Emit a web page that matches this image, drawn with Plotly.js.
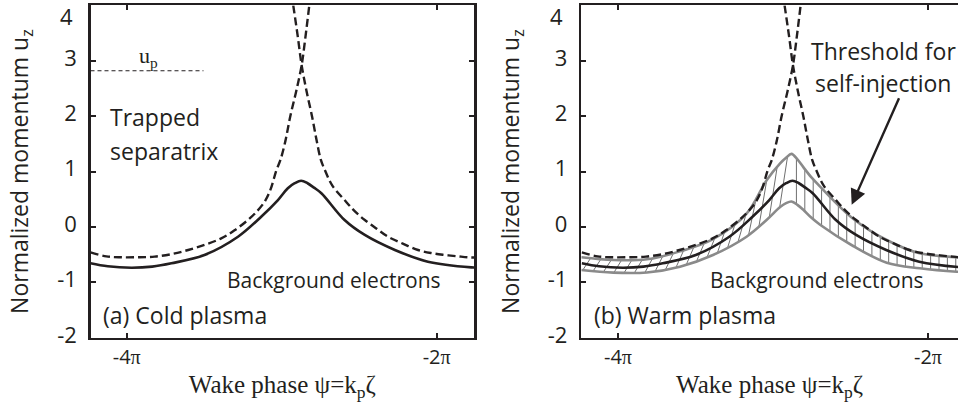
<!DOCTYPE html>
<html>
<head>
<meta charset="utf-8">
<script src="https://cdn.plot.ly/plotly-3.0.1.min.js"></script>
<style>html,body{margin:0;padding:0;background:#fff;}#chart{width:958px;height:408px;}</style>
</head>
<body>
<div id="chart"></div>
<script>
// ---- data (x = wake phase in radians, u = normalized momentum) ----
const coldX = [-13.30, -12.95, -12.47, -12.05, -11.66, -10.99, -10.31, -9.84, -9.50, -9.30, -9.16, -9.03, -8.90, -8.77, -8.62, -8.15, -7.74, -7.13, -6.46, -5.58, -5.50];
const coldU = [-0.655, -0.71, -0.735, -0.715, -0.655, -0.505, -0.175, 0.186, 0.487, 0.70, 0.79, 0.836, 0.79, 0.71, 0.61, 0.126, -0.144, -0.415, -0.626, -0.728, -0.73];

const sepLeftX = [-13.30, -12.98, -12.68, -12.30, -12.00, -11.66, -11.32, -10.98, -10.65, -10.38, -10.11, -9.94, -9.77, -9.65, -9.53, -9.45, -9.35, -9.25, -9.13, -9.02, -8.94, -8.865];
const sepLeftU = [-0.457, -0.53, -0.547, -0.545, -0.535, -0.49, -0.415, -0.32, -0.205, -0.06, 0.126, 0.27, 0.457, 0.68, 1.03, 1.21, 1.55, 2.0, 2.45, 2.92, 3.45, 4.0];

const sepRightX = [-9.19, -9.10, -9.02, -8.92, -8.81, -8.72, -8.63, -8.55, -8.40, -8.15, -7.95, -7.74, -7.50, -7.27, -6.97, -6.66, -6.40, -6.12, -5.85, -5.65, -5.50];
const sepRightU = [4.0, 3.45, 2.92, 2.45, 2.0, 1.58, 1.21, 1.03, 0.75, 0.487, 0.29, 0.126, -0.03, -0.175, -0.30, -0.415, -0.47, -0.505, -0.53, -0.547, -0.55];

const warmX     = [-13.31, -12.66, -11.98, -11.31, -10.64, -9.96, -9.55, -9.28, -9.16, -9.05, -8.93, -8.81, -8.65, -8.47, -7.80, -7.12, -6.45, -5.70, -5.60];
const warmUpper = [-0.547, -0.596, -0.583, -0.44, -0.22, 0.24, 0.85, 1.15, 1.25, 1.32, 1.22, 1.08, 0.90, 0.73, 0.15, -0.235, -0.475, -0.545, -0.55];
const warmLower = [-0.776, -0.824, -0.82, -0.716, -0.505, -0.175, 0.13, 0.36, 0.43, 0.46, 0.40, 0.31, 0.17, 0.04, -0.343, -0.644, -0.746, -0.807, -0.81];

const upX = [-13.30, -11.01];
const upU = [2.82, 2.82];

// the top label "4" is placed as an annotation (it sits lower than its tick, as in the original)
const yTickVals = [-2, -1, 0, 1, 2, 3, 4];
const yTickText = ['-2', '-1', '0', '1', '2', '3', ''];
const yTopLabel = '4';
const xTickVals = [-4 * Math.PI, -2 * Math.PI];
const xTickText = ['-4<span style="font-family:\'Liberation Serif\'">π</span>', '-2<span style="font-family:\'Liberation Serif\'">π</span>'];

// ---- hatch lines derived from the warm band arrays ----
function interp(xs, ys, x) {
  if (x <= xs[0]) return ys[0];
  for (let i = 1; i < xs.length; i++) {
    if (x <= xs[i]) {
      const t = (x - xs[i - 1]) / (xs[i] - xs[i - 1]);
      return ys[i - 1] + t * (ys[i] - ys[i - 1]);
    }
  }
  return ys[ys.length - 1];
}
const hx = [], hy = [];
const peakX = -9.05;
for (let x = -13.28; x < peakX - 0.05; x += 0.21) {
  const x2 = x + 0.16;
  hx.push(x, x2, null);
  hy.push(interp(warmX, warmLower, x), interp(warmX, warmUpper, x2), null);
}
for (let x = peakX + 0.1; x < -5.6; x += 0.17) {
  hx.push(x, x, null);
  hy.push(interp(warmX, warmLower, x), interp(warmX, warmUpper, x), null);
}

const BLACK = '#231f20';
const GRAY = '#8a8a8a';
const dashStyle = '8px,4px';
const SM = 1.0;

const traces = [
  // left panel
  {x: sepLeftX, y: sepLeftU, xaxis: 'x', yaxis: 'y', mode: 'lines', line: {color: BLACK, width: 2.4, dash: dashStyle, shape: 'spline', smoothing: SM}},
  {x: sepRightX, y: sepRightU, xaxis: 'x', yaxis: 'y', mode: 'lines', line: {color: BLACK, width: 2.4, dash: dashStyle, shape: 'spline', smoothing: SM}},
  {x: coldX, y: coldU, xaxis: 'x', yaxis: 'y', mode: 'lines', line: {color: BLACK, width: 2.6, shape: 'spline', smoothing: SM}},
  {x: upX, y: upU, xaxis: 'x', yaxis: 'y', mode: 'lines', line: {color: BLACK, width: 1.2, dash: '4px,3px'}},
  // right panel
  {x: hx, y: hy, xaxis: 'x2', yaxis: 'y2', mode: 'lines', line: {color: '#6f6f6f', width: 1}, connectgaps: false},
  {x: warmX, y: warmUpper, xaxis: 'x2', yaxis: 'y2', mode: 'lines', line: {color: GRAY, width: 2.6, shape: 'spline', smoothing: SM}},
  {x: warmX, y: warmLower, xaxis: 'x2', yaxis: 'y2', mode: 'lines', line: {color: GRAY, width: 2.6, shape: 'spline', smoothing: SM}},
  {x: sepLeftX, y: sepLeftU, xaxis: 'x2', yaxis: 'y2', mode: 'lines', line: {color: BLACK, width: 2.4, dash: dashStyle, shape: 'spline', smoothing: SM}},
  {x: sepRightX, y: sepRightU, xaxis: 'x2', yaxis: 'y2', mode: 'lines', line: {color: BLACK, width: 2.4, dash: dashStyle, shape: 'spline', smoothing: SM}},
  {x: coldX, y: coldU, xaxis: 'x2', yaxis: 'y2', mode: 'lines', line: {color: BLACK, width: 2.6, shape: 'spline', smoothing: SM}}
];

const sans = 'Open Sans, sans-serif';
const serif = 'Liberation Serif, serif';
function P(xpix) { return xpix / 958; }
function Q(ypix) { return 1 - ypix / 408; }

const xCommon = {
  tickvals: xTickVals, ticktext: xTickText, ticks: 'inside', ticklen: 5, tickwidth: 2, tickcolor: BLACK,
  showline: true, linecolor: BLACK, linewidth: 2.5, showgrid: false, zeroline: false,
  tickfont: {family: sans, size: 20, color: BLACK},
  title: {text: 'Wake phase ψ=k<sub>p</sub>ζ', font: {family: serif, size: 25, color: BLACK}, standoff: 6}
};
const yCommon = {
  range: [-2, 4], tickvals: yTickVals, ticktext: yTickText, ticks: 'inside', ticklen: 5, tickwidth: 2, tickcolor: BLACK,
  ticklabelstandoff: 7, ticklabelshift: -3,
  showline: true, linecolor: BLACK, linewidth: 2.5, showgrid: false, zeroline: false,
  tickfont: {family: sans, size: 22, color: BLACK},
  title: {text: 'Normalized momentum u<sub>z</sub>', font: {family: sans, size: 23, color: BLACK}, standoff: 22}
};

const layout = {
  width: 958, height: 408,
  margin: {l: 0, r: 0, t: 0, b: 0},
  paper_bgcolor: '#fff', plot_bgcolor: '#fff',
  showlegend: false,
  xaxis: Object.assign({}, xCommon, {domain: [P(90.7), P(474)], range: [-13.296, -5.526], mirror: 'ticks', anchor: 'y'}),
  yaxis: Object.assign({}, yCommon, {domain: [Q(337.8), Q(5.4)], mirror: 'ticks', anchor: 'x'}),
  xaxis2: Object.assign({}, xCommon, {domain: [P(581.3), 1], range: [-13.31, -5.675], mirror: 'ticks', anchor: 'y2'}),
  yaxis2: Object.assign({}, yCommon, {domain: [Q(337.8), Q(5.4)], mirror: false, anchor: 'x2'}),
  annotations: [
    {xref: 'paper', yref: 'paper', x: P(74), y: 1, xanchor: 'right', yanchor: 'top', borderpad: 0, showarrow: false,
     text: yTopLabel, font: {family: sans, size: 22, color: BLACK}},
    {xref: 'paper', yref: 'paper', x: P(564), y: 1, xanchor: 'right', yanchor: 'top', borderpad: 0, showarrow: false,
     text: yTopLabel, font: {family: sans, size: 22, color: BLACK}},
    {xref: 'paper', yref: 'paper', x: P(137), y: Q(57), xanchor: 'left', yanchor: 'middle', showarrow: false,
     text: 'u<sub>p</sub>', font: {family: serif, size: 22, color: BLACK}},
    {xref: 'paper', yref: 'paper', x: P(108), y: Q(117), xanchor: 'left', yanchor: 'middle', showarrow: false,
     text: 'Trapped', font: {family: sans, size: 23, color: BLACK}},
    {xref: 'paper', yref: 'paper', x: P(108), y: Q(151), xanchor: 'left', yanchor: 'middle', showarrow: false,
     text: 'separatrix', font: {family: sans, size: 23, color: BLACK}},
    {xref: 'paper', yref: 'paper', x: P(225), y: Q(280), xanchor: 'left', yanchor: 'middle', showarrow: false,
     text: 'Background electrons', font: {family: sans, size: 21, color: BLACK}},
    {xref: 'paper', yref: 'paper', x: P(101), y: Q(315), xanchor: 'left', yanchor: 'middle', showarrow: false,
     text: '(a) Cold plasma', font: {family: sans, size: 23, color: BLACK}},
    {xref: 'paper', yref: 'paper', x: P(708), y: Q(280), xanchor: 'left', yanchor: 'middle', showarrow: false,
     text: 'Background electrons', font: {family: sans, size: 21, color: BLACK}},
    {xref: 'paper', yref: 'paper', x: P(592), y: Q(315), xanchor: 'left', yanchor: 'middle', showarrow: false,
     text: '(b) Warm plasma', font: {family: sans, size: 23, color: BLACK}},
    {xref: 'paper', yref: 'paper', x: P(883), y: Q(51), xanchor: 'center', yanchor: 'middle', showarrow: false,
     text: 'Threshold for', font: {family: sans, size: 23, color: BLACK}},
    {xref: 'paper', yref: 'paper', x: P(883), y: Q(83), xanchor: 'center', yanchor: 'middle', showarrow: false,
     text: 'self-injection', font: {family: sans, size: 23, color: BLACK}},
    {xref: 'x2', yref: 'y2', x: -7.83, y: 0.40, ax: 48, ay: -108, axref: 'pixel', ayref: 'pixel', text: '', showarrow: true,
     arrowhead: 2, arrowsize: 1.3, arrowwidth: 2.4, arrowcolor: BLACK}
  ]
};

Plotly.newPlot('chart', traces, layout, {staticPlot: true});
</script>
</body>
</html>
